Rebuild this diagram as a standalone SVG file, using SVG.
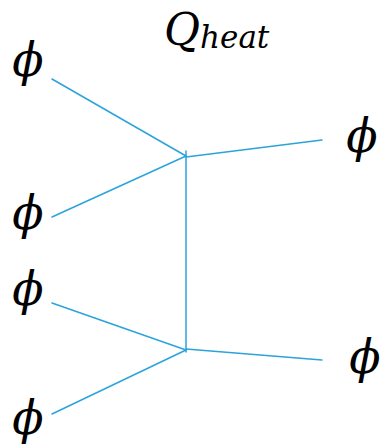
<svg xmlns="http://www.w3.org/2000/svg" width="385" height="444" viewBox="0 0 385 444">
  <style>
    .lbl { font-family: "DejaVu Serif", "Liberation Serif", serif; font-style: italic; font-size: 46px; fill: #000; text-anchor: middle; }
    .q { font-size: 44px; text-anchor: start; }
    .sub { font-size: 31px; }
    .wire { stroke: #2ba3dc; stroke-width: 1.5; fill: none; stroke-linecap: round; }
  </style>
  <rect width="385" height="444" fill="#fff"/>
  <g id="connectors">
    <line class="wire" x1="52" y1="79" x2="186" y2="156"/>
    <line class="wire" x1="52" y1="217" x2="186" y2="156"/>
    <line class="wire" x1="186" y1="151" x2="186" y2="352"/>
    <line class="wire" x1="186" y1="157" x2="322" y2="140"/>
    <line class="wire" x1="52" y1="303" x2="186" y2="350"/>
    <line class="wire" x1="52" y1="414" x2="186" y2="350"/>
    <line class="wire" x1="186" y1="349" x2="322" y2="360"/>
  </g>
  <g id="heat-label">
    <text x="164" y="45" class="lbl q">Q<tspan class="sub" dy="3">heat</tspan></text>
  </g>
  <g id="phi-in-1"><text class="lbl" x="28" y="76">ϕ</text></g>
  <g id="phi-in-2"><text class="lbl" x="28" y="229">ϕ</text></g>
  <g id="phi-in-3"><text class="lbl" x="28" y="305">ϕ</text></g>
  <g id="phi-in-4"><text class="lbl" x="28" y="434">ϕ</text></g>
  <g id="phi-out-1"><text class="lbl" x="362" y="152">ϕ</text></g>
  <g id="phi-out-2"><text class="lbl" x="365" y="373">ϕ</text></g>
</svg>
